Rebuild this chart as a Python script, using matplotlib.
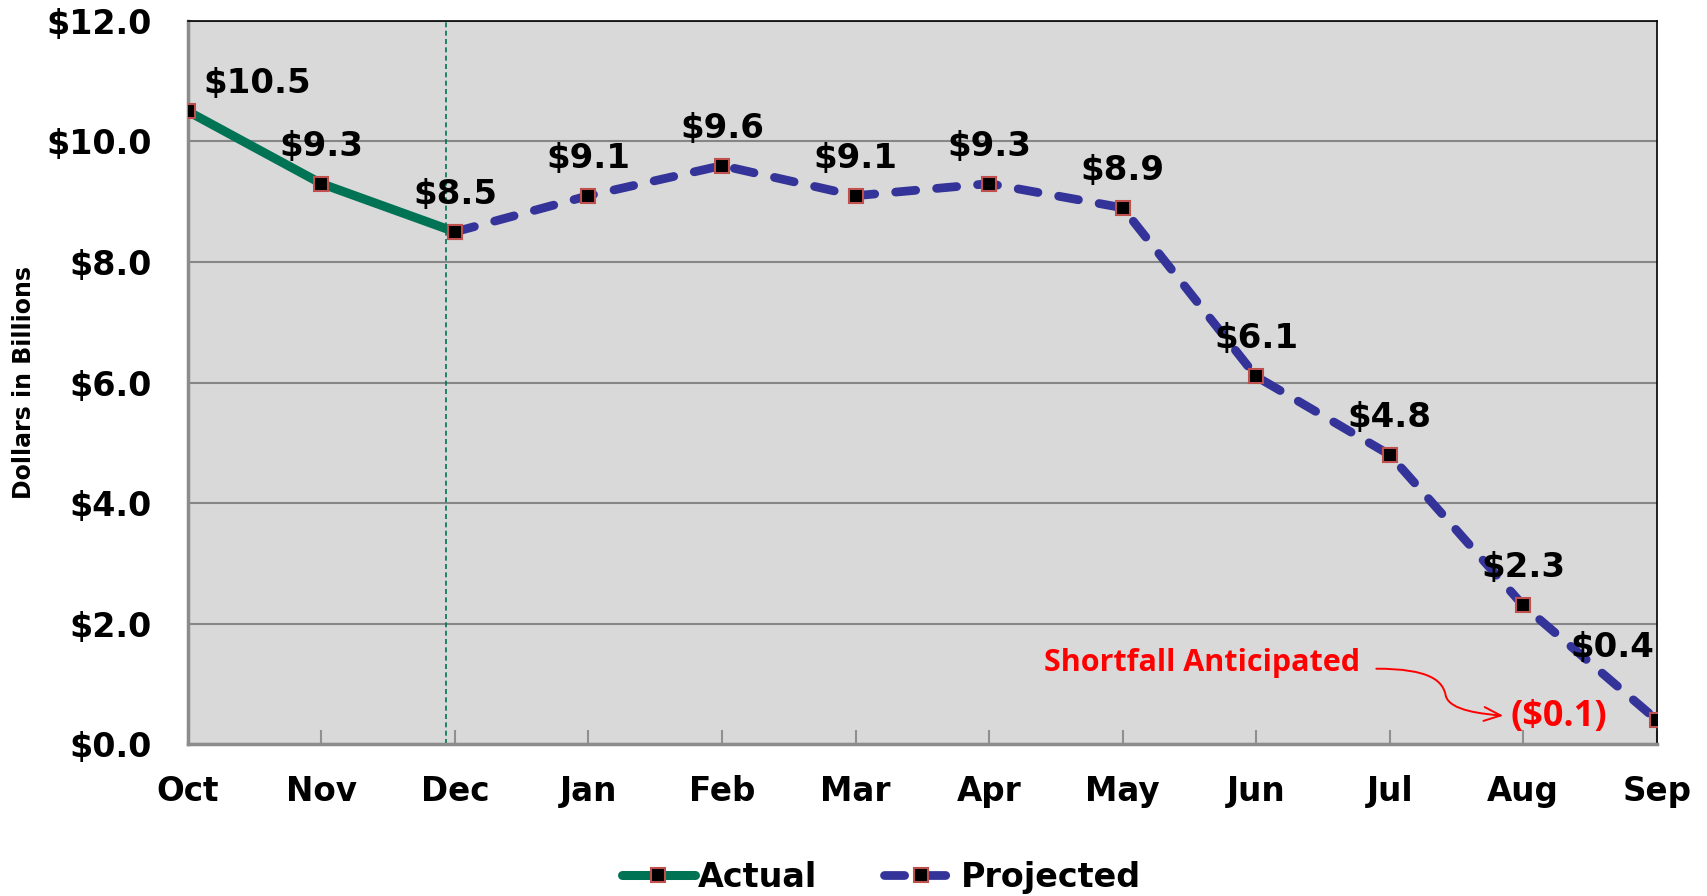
import numpy as np
import matplotlib
matplotlib.use("Agg")
from matplotlib import pyplot as plt
from matplotlib.path import Path
from matplotlib.patches import FancyArrowPatch

# data
months = ['Oct', 'Nov', 'Dec', 'Jan', 'Feb', 'Mar', 'Apr', 'May', 'Jun', 'Jul', 'Aug', 'Sep']
actual = [10.5, 9.3, 8.5]
projected = [8.5, 9.1, 9.6, 9.1, 9.3, 8.9, 6.1, 4.8, 2.3, 0.4]
labels = ['$10.5', '$9.3', '$8.5', '$9.1', '$9.6', '$9.1', '$9.3', '$8.9',
          '$6.1', '$4.8', '$2.3', '$0.4']
y_ticks = [0, 2, 4, 6, 8, 10, 12]
shortfall_text = 'Shortfall Anticipated'
shortfall_value = '($0.1)'

# styling
green = '#007355'
blue = '#333399'
edge_red = '#c0504d'
bg = '#d9d9d9'
plt.rcParams['font.family'] = ['DejaVu Sans']
plt.rcParams['font.weight'] = 'bold'

fig = plt.figure(figsize=(17.08, 8.96), dpi=100)
ax = fig.add_axes([0.110, 0.1696, 0.860, 0.807])
ax.set_facecolor(bg)

x_act = np.arange(len(actual))
x_proj = np.arange(len(actual) - 1, len(months))
all_vals = actual + projected[1:]

ax.plot(x_act, actual, color=green, lw=6.5, solid_capstyle='round', zorder=3,
        marker='s', ms=10, mfc='black', mec=edge_red, mew=1.5, label='Actual')
ax.plot(x_proj, projected, color=blue, lw=6.3, ls=(0, (2.3, 2.4)), dash_capstyle='round',
        zorder=3, marker='s', ms=10, mfc='black', mec=edge_red, mew=1.5, label='Projected')

# vertical separator just before Dec
ax.axvline(1.935, color=green, lw=1.2, ls=(0, (3, 2)), zorder=2)

# data labels (offsets in points)
offsets = [(50, 20)] + [(0, 27)] * 10 + [(-32, 52)]
for i, (v, t) in enumerate(zip(all_vals, labels)):
    ax.annotate(t, (i, v), xytext=offsets[i], textcoords='offset points',
                ha='center', va='center', fontsize=24.5, fontweight='bold',
                annotation_clip=False, zorder=5)

ax.set_xlim(0, len(months) - 1)
ax.set_ylim(0, 12)
ax.set_xticks(range(len(months)))
ax.set_xticklabels(months)
ax.set_yticks(y_ticks)
ax.set_yticklabels(['${:.1f}'.format(v) for v in y_ticks])
ax.tick_params(axis='x', direction='in', length=10, width=1.5, color='#909090',
               pad=22, labelsize=23.5)
ax.tick_params(axis='y', length=0, pad=26, labelsize=24)
for lab in ax.get_xticklabels() + ax.get_yticklabels():
    lab.set_fontweight('bold')

ax.grid(axis='y', color='#868686', lw=1.5, zorder=1)
ax.set_axisbelow(True)
ax.spines['left'].set_color('#8c8c8c')
ax.spines['left'].set_linewidth(2.5)
ax.spines['bottom'].set_color('#8c8c8c')
ax.spines['bottom'].set_linewidth(2.5)
ax.spines['top'].set_color('black')
ax.spines['top'].set_linewidth(1.2)
ax.spines['right'].set_color('black')
ax.spines['right'].set_linewidth(1.2)

fig.text(0.014, 0.573, 'Dollars in Billions', rotation=90, ha='center', va='center',
         fontsize=17, fontweight='bold')

# shortfall annotation
ax.text(8.78, 1.34, shortfall_text, color='red', fontsize=22, fontweight='bold',
        family=['Open Sans', 'DejaVu Sans'], ha='right', va='center')
ax.text(10.27, 0.45, shortfall_value, color='red', fontsize=26, fontweight='bold',
        family=['Open Sans', 'DejaVu Sans'], ha='center', va='center')
arrow_path = Path([(8.9, 1.25), (9.3, 1.25), (9.4, 1.05), (9.42, 0.8),
                   (9.45, 0.55), (9.7, 0.5), (9.85, 0.47)],
                  [Path.MOVETO, Path.CURVE4, Path.CURVE4, Path.CURVE4,
                   Path.CURVE4, Path.CURVE4, Path.CURVE4])
arr = FancyArrowPatch(path=arrow_path, arrowstyle='->,head_length=12,head_width=5',
                      color='red', lw=1.4, zorder=4)
ax.add_patch(arr)

leg = fig.legend(loc='center', bbox_to_anchor=(0.516, 0.021), ncol=2, frameon=False,
                 prop={'size': 24, 'weight': 'bold'}, handlelength=2.2,
                 handletextpad=0.1, columnspacing=2.0)

fig.savefig('out.png', dpi=100)
